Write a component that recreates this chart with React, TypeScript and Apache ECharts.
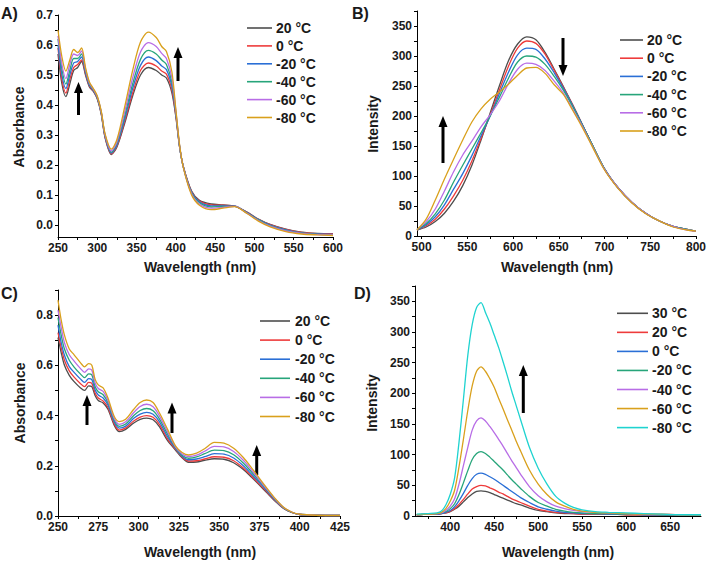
import React, { useEffect, useRef } from "react";
import * as echarts from "echarts";

// ---------- Data ----------
const TEMPS_ABC = ["20 °C", "0 °C", "-20 °C", "-40 °C", "-60 °C", "-80 °C"];
const TEMPS_D = ["30 °C", "20 °C", "0 °C", "-20 °C", "-40 °C", "-60 °C", "-80 °C"];

// Panel A: absorbance
const A_X = [250, 255, 260, 265, 270, 275, 280, 285, 290, 295, 300, 305, 310, 318, 325, 335, 345, 355, 365, 375, 382, 388, 395, 400, 405, 410, 420, 430, 445, 460, 475, 490, 505, 520, 540, 560, 580, 600];
const A_P20 = [0.57, 0.47, 0.428, 0.47, 0.515, 0.525, 0.545, 0.5, 0.46, 0.445, 0.42, 0.37, 0.29, 0.235, 0.26, 0.34, 0.43, 0.5, 0.525, 0.515, 0.5, 0.49, 0.44, 0.36, 0.255, 0.19, 0.113, 0.082, 0.07, 0.067, 0.063, 0.044, 0.02, 0.002, -0.014, -0.024, -0.028, -0.029];
const A_0 = [0.59, 0.485, 0.44, 0.485, 0.525, 0.535, 0.55, 0.505, 0.463, 0.447, 0.422, 0.372, 0.292, 0.237, 0.263, 0.347, 0.44, 0.515, 0.54, 0.53, 0.513, 0.503, 0.45, 0.365, 0.256, 0.19, 0.111, 0.08, 0.067, 0.066, 0.063, 0.043, 0.019, 0.001, -0.015, -0.025, -0.029, -0.03];
const A_M20 = [0.6, 0.5, 0.455, 0.5, 0.54, 0.545, 0.56, 0.51, 0.466, 0.449, 0.424, 0.374, 0.295, 0.24, 0.267, 0.355, 0.455, 0.532, 0.56, 0.548, 0.53, 0.518, 0.462, 0.37, 0.257, 0.189, 0.109, 0.077, 0.064, 0.064, 0.063, 0.042, 0.018, 0, -0.016, -0.026, -0.03, -0.031];
const A_M40 = [0.62, 0.52, 0.47, 0.515, 0.555, 0.555, 0.57, 0.515, 0.47, 0.451, 0.426, 0.376, 0.298, 0.243, 0.272, 0.365, 0.47, 0.552, 0.582, 0.57, 0.55, 0.535, 0.475, 0.375, 0.258, 0.188, 0.107, 0.074, 0.06, 0.062, 0.062, 0.041, 0.017, -0.002, -0.018, -0.027, -0.031, -0.032];
const A_M60 = [0.63, 0.535, 0.488, 0.535, 0.57, 0.565, 0.58, 0.52, 0.473, 0.453, 0.428, 0.378, 0.3, 0.247, 0.277, 0.378, 0.49, 0.577, 0.608, 0.595, 0.572, 0.555, 0.49, 0.38, 0.26, 0.187, 0.104, 0.07, 0.056, 0.059, 0.062, 0.04, 0.015, -0.004, -0.02, -0.028, -0.032, -0.033];
const A_M80 = [0.65, 0.56, 0.513, 0.55, 0.585, 0.575, 0.59, 0.525, 0.477, 0.455, 0.43, 0.38, 0.303, 0.253, 0.285, 0.395, 0.515, 0.61, 0.643, 0.625, 0.595, 0.578, 0.51, 0.385, 0.262, 0.186, 0.1, 0.066, 0.051, 0.056, 0.061, 0.039, 0.013, -0.006, -0.022, -0.03, -0.033, -0.035];
const A_X_TICKS = [250, 300, 350, 400, 450, 500, 550, 600];
const A_Y_TICKS = [0, 0.1, 0.2, 0.3, 0.4, 0.5, 0.6, 0.7];

// Panel B: emission intensity
const B_X = [495, 505, 515, 525, 535, 545, 555, 565, 575, 585, 595, 605, 615, 625, 635, 645, 655, 665, 675, 685, 700, 715, 730, 745, 760, 775, 790, 800];
const B_P20 = [10, 15, 24, 38, 58, 84, 118, 160, 205, 250, 292, 320, 332, 327, 306, 278, 249, 219, 188, 157, 112, 80, 56, 38, 25, 16, 11, 8];
const B_0 = [10, 17, 28, 45, 67, 93, 125, 163, 202, 243, 283, 313, 325, 321, 303, 276, 248, 219, 188, 157, 112, 80, 56, 38, 25, 16, 11, 8];
const B_M20 = [10, 19, 32, 52, 78, 104, 134, 167, 200, 237, 273, 302, 313, 311, 295, 272, 246, 218, 188, 157, 112, 80, 56, 38, 25, 16, 11, 8];
const B_M40 = [11, 21, 37, 60, 90, 118, 145, 172, 200, 231, 263, 290, 300, 298, 286, 266, 243, 216, 187, 157, 112, 80, 56, 38, 25, 16, 11, 8];
const B_M60 = [11, 24, 45, 75, 107, 135, 158, 182, 202, 225, 254, 278, 288, 286, 276, 258, 238, 212, 185, 155, 111, 80, 56, 38, 25, 16, 10, 8];
const B_M80 = [10, 28, 60, 95, 128, 160, 190, 212, 228, 240, 253, 268, 280, 281, 271, 252, 236, 210, 183, 154, 110, 79, 55, 37, 25, 15, 10, 8];
const B_X_TICKS = [500, 550, 600, 650, 700, 750, 800];
const B_Y_TICKS = [0, 50, 100, 150, 200, 250, 300, 350];

// Panel C: absorbance
const C_X = [250, 252, 254, 257, 260, 264, 266.5, 269, 271, 273, 275, 278, 281, 285, 288, 292, 297, 301, 305, 309, 313, 318, 323, 327, 331, 336, 341, 347, 353, 359, 365, 370, 375, 380, 385, 390, 395, 400, 410, 425];
const C_P20 = [0.71, 0.65, 0.6, 0.56, 0.535, 0.51, 0.5, 0.518, 0.515, 0.48, 0.46, 0.45, 0.425, 0.36, 0.336, 0.345, 0.37, 0.385, 0.39, 0.383, 0.355, 0.3, 0.262, 0.232, 0.214, 0.215, 0.222, 0.228, 0.226, 0.212, 0.185, 0.155, 0.123, 0.09, 0.058, 0.03, 0.014, 0.006, 0.003, 0.002];
const C_0 = [0.73, 0.67, 0.62, 0.578, 0.553, 0.527, 0.515, 0.532, 0.528, 0.49, 0.47, 0.458, 0.432, 0.366, 0.342, 0.351, 0.378, 0.394, 0.4, 0.393, 0.364, 0.307, 0.265, 0.235, 0.219, 0.22, 0.227, 0.236, 0.234, 0.22, 0.191, 0.16, 0.127, 0.093, 0.06, 0.031, 0.014, 0.006, 0.003, 0.002];
const C_M20 = [0.76, 0.69, 0.64, 0.595, 0.572, 0.545, 0.532, 0.547, 0.543, 0.503, 0.482, 0.47, 0.442, 0.373, 0.35, 0.358, 0.389, 0.406, 0.413, 0.405, 0.375, 0.316, 0.268, 0.238, 0.224, 0.227, 0.236, 0.248, 0.246, 0.231, 0.2, 0.167, 0.133, 0.097, 0.062, 0.032, 0.015, 0.006, 0.003, 0.002];
const C_M40 = [0.79, 0.72, 0.665, 0.62, 0.593, 0.565, 0.551, 0.566, 0.562, 0.516, 0.495, 0.483, 0.451, 0.38, 0.357, 0.366, 0.4, 0.42, 0.428, 0.419, 0.386, 0.326, 0.271, 0.242, 0.23, 0.235, 0.248, 0.262, 0.26, 0.244, 0.211, 0.176, 0.139, 0.101, 0.064, 0.033, 0.015, 0.007, 0.003, 0.002];
const C_M60 = [0.82, 0.75, 0.69, 0.642, 0.617, 0.587, 0.572, 0.586, 0.581, 0.53, 0.508, 0.496, 0.46, 0.387, 0.365, 0.375, 0.412, 0.436, 0.445, 0.435, 0.398, 0.335, 0.274, 0.247, 0.237, 0.242, 0.258, 0.277, 0.275, 0.257, 0.222, 0.184, 0.144, 0.104, 0.066, 0.034, 0.016, 0.007, 0.003, 0.002];
const C_M80 = [0.86, 0.78, 0.72, 0.665, 0.642, 0.61, 0.594, 0.607, 0.6, 0.545, 0.522, 0.51, 0.47, 0.395, 0.376, 0.385, 0.425, 0.452, 0.462, 0.452, 0.41, 0.345, 0.278, 0.253, 0.243, 0.25, 0.268, 0.293, 0.29, 0.27, 0.233, 0.193, 0.15, 0.108, 0.068, 0.035, 0.016, 0.007, 0.003, 0.002];
const C_X_TICKS = [250, 275, 300, 325, 350, 375, 400, 425];
const C_Y_TICKS = [0, 0.2, 0.4, 0.6, 0.8];

// Panel D: emission intensity
const D_X = [362, 375, 385, 390, 395, 400, 405, 410, 415, 420, 425, 430, 435, 440, 445, 450, 455, 460, 465, 470, 475, 480, 490, 500, 510, 520, 530, 540, 550, 565, 580, 600, 620, 640, 660, 685];
const D_P30 = [2, 3, 3, 4, 5, 7, 11, 16, 23, 30, 36, 40, 41, 40, 38, 35, 32, 29, 26, 23, 20, 18, 13, 9, 7, 5, 4, 4, 3, 3, 3, 2, 2, 2, 1, 1];
const D_P20 = [2, 3, 3, 4, 5, 8, 12, 19, 27, 36, 44, 48, 50, 49, 46, 43, 39, 36, 32, 28, 25, 22, 16, 11, 8, 6, 5, 4, 3, 3, 3, 2, 2, 2, 1, 1];
const D_0 = [2, 3, 3, 4, 6, 9, 15, 25, 37, 50, 61, 68, 70, 68, 64, 60, 55, 50, 45, 40, 35, 30, 22, 15, 11, 8, 6, 5, 4, 4, 3, 3, 2, 2, 2, 1];
const D_M20 = [2, 3, 4, 5, 7, 12, 20, 35, 54, 74, 92, 102, 105, 102, 96, 89, 82, 75, 67, 59, 52, 45, 32, 22, 16, 11, 8, 6, 5, 4, 4, 3, 3, 2, 2, 1];
const D_M40 = [2, 3, 4, 5, 9, 16, 28, 52, 82, 112, 140, 155, 160, 155, 146, 136, 125, 114, 102, 90, 79, 68, 48, 33, 23, 16, 12, 9, 7, 6, 5, 4, 3, 3, 2, 2];
const D_M60 = [2, 3, 4, 6, 12, 24, 42, 80, 125, 172, 212, 236, 243, 236, 224, 210, 192, 175, 157, 140, 122, 106, 75, 52, 35, 23, 16, 11, 8, 6, 5, 4, 3, 3, 2, 2];
const D_M80 = [3, 4, 5, 8, 18, 35, 62, 120, 190, 262, 312, 340, 348, 332, 315, 295, 275, 252, 228, 203, 180, 157, 112, 78, 52, 32, 21, 14, 10, 7, 6, 5, 4, 3, 2, 2];
const D_X_TICKS = [400, 450, 500, 550, 600, 650];
const D_Y_TICKS = [0, 50, 100, 150, 200, 250, 300, 350];

// ---------- Styles ----------
const GRAY = "#4d4d4d";
const RED = "#ee3b3b";
const BLUE = "#2a6fd6";
const GREEN = "#27a57a";
const PURPLE = "#b86de6";
const ORANGE = "#d9a01c";
const CYAN = "#1fd3d0";
const COLORS_ABC = [GRAY, RED, BLUE, GREEN, PURPLE, ORANGE];
const COLORS_D = [GRAY, RED, BLUE, GREEN, PURPLE, ORANGE, CYAN];
const FONT = '"Liberation Sans", Arial, sans-serif';
const TEXT = "#1a1a1a";

function withMinor(ticks: number[], min: number, max: number): number[] {
  const out: number[] = [...ticks];
  const step = ticks[1] - ticks[0];
  for (let i = 0; i < ticks.length; i++) {
    const m1 = ticks[i] + step / 2;
    const m0 = ticks[i] - step / 2;
    if (m1 <= max + 1e-9) out.push(m1);
    if (i === 0 && m0 >= min - 1e-9) out.push(m0);
  }
  return out;
}

type Panel = {
  grid: { left: number; top: number; width: number; height: number };
  xs: number[];
  ys: number[][];
  names: string[];
  colors: string[];
  xMin: number; xMax: number; yMin: number; yMax: number;
  xTicks: number[]; yTicks: number[];
  yFmt: (v: number) => string;
};

const PANELS: Panel[] = [
  {
    grid: { left: 58, top: 15, width: 275, height: 222 },
    xs: A_X, ys: [A_P20, A_0, A_M20, A_M40, A_M60, A_M80], names: TEMPS_ABC, colors: COLORS_ABC,
    xMin: 250, xMax: 600, yMin: -0.04, yMax: 0.7, xTicks: A_X_TICKS, yTicks: A_Y_TICKS,
    yFmt: (v) => v.toFixed(1),
  },
  {
    grid: { left: 417, top: 11, width: 280, height: 225 },
    xs: B_X, ys: [B_P20, B_0, B_M20, B_M40, B_M60, B_M80], names: TEMPS_ABC, colors: COLORS_ABC,
    xMin: 495, xMax: 800, yMin: 0, yMax: 375, xTicks: B_X_TICKS, yTicks: B_Y_TICKS,
    yFmt: (v) => String(Math.round(v)),
  },
  {
    grid: { left: 58, top: 290, width: 282, height: 226 },
    xs: C_X, ys: [C_P20, C_0, C_M20, C_M40, C_M60, C_M80], names: TEMPS_ABC, colors: COLORS_ABC,
    xMin: 250, xMax: 425, yMin: 0, yMax: 0.9, xTicks: C_X_TICKS, yTicks: C_Y_TICKS,
    yFmt: (v) => v.toFixed(1),
  },
  {
    grid: { left: 415, top: 286, width: 286, height: 230 },
    xs: D_X, ys: [D_P30, D_P20, D_0, D_M20, D_M40, D_M60, D_M80], names: TEMPS_D, colors: COLORS_D,
    xMin: 360, xMax: 685, yMin: 0, yMax: 375, xTicks: D_X_TICKS, yTicks: D_Y_TICKS,
    yFmt: (v) => String(Math.round(v)),
  },
];

// legend placement: line x0, x1, text x, first row y, row step
const LEGENDS = [
  { x0: 247, x1: 272, tx: 276, y0: 28, dy: 17.9 },
  { x0: 620, x1: 643, tx: 647, y0: 40, dy: 18.2 },
  { x0: 260, x1: 290, tx: 295, y0: 321, dy: 19.1 },
  { x0: 617, x1: 648, tx: 652, y0: 313.3, dy: 19.05 },
];

const TITLES = [
  { x: 200, y: 267, xName: "Wavelength (nm)", yx: 19, yy: 127, yName: "Absorbance", label: "A)", lx: 1, ly: 13 },
  { x: 557, y: 267, xName: "Wavelength (nm)", yx: 373, yy: 124, yName: "Intensity", label: "B)", lx: 352, ly: 13 },
  { x: 200, y: 552, xName: "Wavelength (nm)", yx: 20, yy: 403, yName: "Absorbance", label: "C)", lx: 1, ly: 293 },
  { x: 558, y: 552, xName: "Wavelength (nm)", yx: 372, yy: 403, yName: "Intensity", label: "D)", lx: 354, ly: 293 },
];

// arrows: x, tip y, tail y
const ARROWS = [
  [78.5, 82, 115],
  [178, 47, 81],
  [563, 76, 38],
  [443, 116, 163],
  [87, 395, 425],
  [172, 402.5, 433],
  [256.7, 445, 475],
  [523.3, 365, 413],
];

function txt(text: string, x: number, y: number, size: number, align: string, extra: any = {}) {
  return {
    type: "text",
    x,
    y,
    silent: true,
    ...extra,
    style: {
      text,
      fill: TEXT,
      font: `bold ${size}px ${FONT}`,
      textAlign: align,
      textVerticalAlign: "middle",
      align,
      verticalAlign: "middle",
    },
  };
}

function arrow(x: number, tipY: number, tailY: number) {
  const dir = tailY > tipY ? 1 : -1;
  const headLen = 11;
  const headW = 4.5;
  return [
    {
      type: "line",
      silent: true,
      shape: { x1: x, y1: tailY, x2: x, y2: tipY + dir * headLen * 0.8 },
      style: { stroke: "#000", lineWidth: 3 },
    },
    {
      type: "polygon",
      silent: true,
      shape: { points: [[x, tipY], [x - headW, tipY + dir * headLen], [x + headW, tipY + dir * headLen]] },
      style: { fill: "#000" },
    },
  ];
}

function buildOption() {
  const grid: any[] = [];
  const xAxis: any[] = [];
  const yAxis: any[] = [];
  const series: any[] = [];
  const graphic: any[] = [];
  const labelStyle = { fontFamily: FONT, fontWeight: "bold", fontSize: 12, color: TEXT };

  PANELS.forEach((p, i) => {
    grid.push({ ...p.grid, containLabel: false });
    xAxis.push({
      type: "value",
      gridIndex: i,
      min: p.xMin,
      max: p.xMax,
      axisLine: { show: true, onZero: false, lineStyle: { color: "#000", width: 1 } },
      axisTick: { show: true, inside: false, length: 3, customValues: withMinor(p.xTicks, p.xMin, p.xMax), lineStyle: { color: "#000" } },
      axisLabel: { ...labelStyle, margin: 5, customValues: p.xTicks, formatter: (v: number) => String(Math.round(v)) },
      splitLine: { show: false },
    });
    yAxis.push({
      type: "value",
      gridIndex: i,
      min: p.yMin,
      max: p.yMax,
      axisLine: { show: true, onZero: false, lineStyle: { color: "#000", width: 1 } },
      axisTick: { show: true, inside: false, length: 3, customValues: withMinor(p.yTicks, p.yMin, p.yMax), lineStyle: { color: "#000" } },
      axisLabel: { ...labelStyle, margin: 5, customValues: p.yTicks, formatter: p.yFmt },
      splitLine: { show: false },
    });
    p.ys.forEach((ys, k) => {
      series.push({
        type: "line",
        name: p.names[k],
        xAxisIndex: i,
        yAxisIndex: i,
        data: p.xs.map((x, j) => [x, ys[j]]),
        showSymbol: false,
        smooth: 0.3,
        silent: true,
        lineStyle: { color: p.colors[k], width: 1.3 },
        itemStyle: { color: p.colors[k] },
      });
    });
    const L = LEGENDS[i];
    p.names.forEach((n, k) => {
      const y = L.y0 + k * L.dy;
      graphic.push({
        type: "line",
        silent: true,
        shape: { x1: L.x0, y1: y, x2: L.x1, y2: y },
        style: { stroke: p.colors[k], lineWidth: 1.6 },
      });
      graphic.push(txt(n, L.tx, y, 14, "left"));
    });
    const T = TITLES[i];
    graphic.push(txt(T.xName, T.x, T.y, 14, "center"));
    graphic.push(txt(T.yName, T.yx, T.yy, 14, "center", { rotation: Math.PI / 2 }));
    graphic.push(txt(T.label, T.lx, T.ly, 16, "left"));
  });
  ARROWS.forEach((a) => graphic.push(...arrow(a[0], a[1], a[2])));

  return {
    animation: false,
    backgroundColor: "#ffffff",
    grid,
    xAxis,
    yAxis,
    series,
    graphic: { elements: graphic },
  };
}

export default function App() {
  const ref = useRef<HTMLDivElement>(null);
  useEffect(() => {
    if (!ref.current) return;
    const chart = echarts.init(ref.current, undefined, { renderer: "svg", width: 709, height: 562 });
    chart.setOption(buildOption() as any);
    return () => chart.dispose();
  }, []);
  return (
    <div
      ref={ref}
      style={{ position: "absolute", left: 0, top: 0, width: 709, height: 562, background: "#fff" }}
    />
  );
}
